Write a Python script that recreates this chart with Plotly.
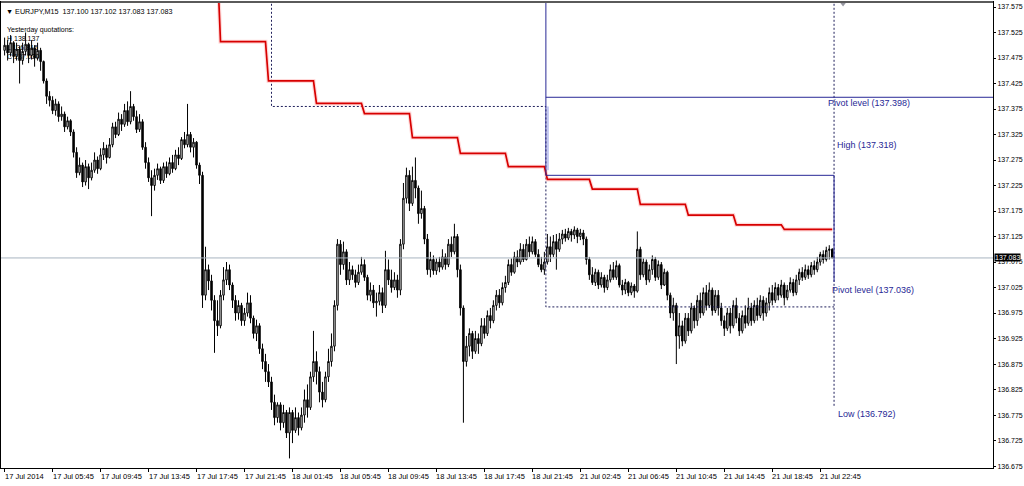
import plotly.graph_objects as go

# ---------------- data (EURJPY M15) ----------------
first_open = 137.490
close = [
    137.500, 137.485, 137.505, 137.478, 137.492, 137.470, 137.488, 137.502, 137.480, 137.495, 137.475, 137.490, 137.468,
    137.430, 137.400, 137.392,
    137.372, 137.385, 137.360, 137.365,
    137.340, 137.352, 137.330,
    137.290, 137.250, 137.265, 137.232,
    137.262, 137.240, 137.255,
    137.275, 137.258, 137.285,
    137.298, 137.280, 137.305,
    137.340, 137.325, 137.355, 137.345,
    137.372, 137.350, 137.380,
    137.360, 137.335, 137.350,
    137.300, 137.270, 137.240,
    137.225, 137.245,
    137.258, 137.235, 137.262, 137.248,
    137.270, 137.258, 137.285, 137.278,
    137.315, 137.305, 137.325,
    137.300, 137.310, 137.265, 137.245,
    137.010,
    137.060, 137.038,
    137.000, 136.960, 136.950,
    137.010, 137.040, 137.060, 137.030,
    137.000, 136.975, 136.990, 136.960,
    136.975, 136.995, 136.965,
    136.935, 136.950, 136.905, 136.880, 136.860,
    136.840, 136.800, 136.770,
    136.795, 136.760, 136.780, 136.740,
    136.780,
    136.745, 136.770, 136.750, 136.775,
    136.805, 136.790,
    136.850, 136.880, 136.860,
    136.820, 136.805,
    136.850, 136.880, 136.910,
    136.990, 137.110,
    137.070, 137.095,
    137.040, 137.060, 137.050, 137.035, 137.055, 137.070, 137.045,
    137.010, 137.020, 136.995, 136.998, 137.015, 136.990,
    137.060, 137.040,
    137.025, 137.040, 137.020,
    137.110, 137.200,
    137.245, 137.190, 137.235, 137.220,
    137.170, 137.180,
    137.120, 137.060,
    137.080, 137.058, 137.075, 137.065, 137.085, 137.070,
    137.110, 137.095, 137.125,
    137.060, 136.985,
    136.880, 136.910,
    136.935, 136.900, 136.925, 136.915,
    136.950, 136.935, 136.970, 136.960, 136.990,
    137.010, 136.995, 137.025, 137.035,
    137.070, 137.055, 137.085, 137.075,
    137.100, 137.080, 137.110, 137.095, 137.115,
    137.090, 137.070, 137.060, 137.075,
    137.105, 137.090, 137.115, 137.100, 137.120,
    137.130, 137.122, 137.135, 137.128, 137.138, 137.125, 137.132, 137.120,
    137.080, 137.050,
    137.035, 137.055, 137.030, 137.045, 137.025, 137.040,
    137.060, 137.045, 137.068, 137.030,
    137.020, 137.035, 137.015, 137.028, 137.018,
    137.100,
    137.050, 137.075, 137.040, 137.060,
    137.080, 137.045, 137.070, 137.030, 137.055,
    137.010, 136.975, 136.990, 136.930,
    136.950, 136.920, 136.965, 136.940, 136.985, 136.960,
    137.000, 136.975, 137.015, 136.990, 137.020, 136.980, 137.010, 136.985,
    136.960, 136.945, 136.975, 136.950, 136.990, 136.965, 136.940, 136.970,
    136.955, 136.985, 136.960, 136.990, 136.970, 137.000, 136.975, 136.995,
    137.015, 137.000, 137.025, 137.010, 137.030, 137.005, 137.020, 137.035, 137.015, 137.040,
    137.055, 137.045, 137.060, 137.050, 137.068, 137.060,
    137.075, 137.090, 137.080, 137.098, 137.100, 137.083,
]
high = [
    137.515, 137.510, 137.520, 137.508, 137.505, 137.498, 137.505, 137.525, 137.505, 137.510, 137.500, 137.505, 137.495,
    137.470, 137.435, 137.410,
    137.400, 137.395, 137.390, 137.380,
    137.370, 137.360, 137.355,
    137.335, 137.300, 137.280, 137.270,
    137.275, 137.268, 137.270,
    137.290, 137.282, 137.298,
    137.310, 137.305, 137.318,
    137.348, 137.350, 137.368, 137.365,
    137.385, 137.390, 137.410,
    137.385, 137.372, 137.365,
    137.355, 137.310, 137.280,
    137.255, 137.258,
    137.268, 137.262, 137.270, 137.272,
    137.280, 137.285, 137.295, 137.300,
    137.320, 137.330, 137.385,
    137.330, 137.318, 137.312, 137.270,
    137.252,
    137.105, 137.070,
    137.050, 137.010, 137.000,
    137.020, 137.065, 137.075, 137.070,
    137.035, 137.010, 137.000, 136.995,
    136.985, 137.015, 137.010,
    136.970, 136.962, 136.955, 136.915, 136.895,
    136.875, 136.850, 136.815,
    136.800, 136.800, 136.795, 136.785,
    136.790,
    136.785, 136.790, 136.780, 136.790,
    136.825, 136.835,
    136.860, 136.940, 136.900,
    136.870, 136.840,
    136.860, 136.905, 136.935,
    137.000, 137.120,
    137.118, 137.115,
    137.100, 137.075, 137.068, 137.060, 137.070, 137.085, 137.080,
    137.050, 137.035, 137.030, 137.015, 137.030, 137.025,
    137.097, 137.080,
    137.060, 137.055, 137.050,
    137.120, 137.230,
    137.260, 137.255, 137.262, 137.280,
    137.225, 137.215,
    137.185, 137.130,
    137.095, 137.088, 137.082, 137.085, 137.100, 137.092,
    137.120, 137.125, 137.150,
    137.130, 137.070,
    136.990, 136.930,
    136.945, 136.940, 136.940, 136.935,
    136.965, 136.965, 136.980, 136.985, 137.000,
    137.020, 137.022, 137.035, 137.048,
    137.080, 137.082, 137.095, 137.098,
    137.112, 137.110, 137.120, 137.125, 137.125,
    137.120, 137.100, 137.085, 137.095,
    137.130, 137.125, 137.128, 137.130, 137.132,
    137.138, 137.140, 137.142, 137.140, 137.145, 137.142, 137.140, 137.138,
    137.125, 137.085,
    137.065, 137.062, 137.060, 137.055, 137.050, 137.050,
    137.070, 137.075, 137.078, 137.072,
    137.040, 137.042, 137.038, 137.035, 137.032,
    137.135,
    137.105, 137.082, 137.080, 137.070,
    137.088, 137.085, 137.078, 137.075, 137.062,
    137.058, 137.015, 137.005, 136.995,
    136.975, 136.960, 136.975, 136.975, 136.995, 136.990,
    137.010, 137.015, 137.025, 137.030, 137.035, 137.025, 137.020, 137.020,
    136.995, 136.970, 136.985, 136.985, 137.000, 137.005, 136.975, 136.980,
    136.990, 137.005, 136.995, 137.000, 137.005, 137.010, 137.008, 137.005,
    137.025, 137.030, 137.035, 137.032, 137.040, 137.035, 137.030, 137.045, 137.042, 137.050,
    137.062, 137.065, 137.070, 137.068, 137.075, 137.078,
    137.085, 137.095, 137.098, 137.105, 137.108, 137.102,
]
low = [
    137.480, 137.470, 137.478, 137.465, 137.470, 137.425, 137.462, 137.480, 137.465, 137.472, 137.458, 137.470, 137.450,
    137.425, 137.385, 137.380,
    137.365, 137.362, 137.350, 137.352,
    137.330, 137.335, 137.322,
    137.280, 137.240, 137.245, 137.222,
    137.225, 137.218, 137.235,
    137.250, 137.248, 137.255,
    137.275, 137.268, 137.278,
    137.300, 137.318, 137.322, 137.332,
    137.340, 137.342, 137.345,
    137.352, 137.328, 137.330,
    137.295, 137.258, 137.232,
    137.165, 137.215,
    137.236, 137.228, 137.230, 137.240,
    137.245, 137.250, 137.255, 137.265,
    137.275, 137.298, 137.300,
    137.290, 137.280, 137.258, 137.228,
    136.985,
    137.000, 137.020,
    136.980, 136.897, 136.930,
    136.945, 137.000, 137.030, 137.020,
    136.985, 136.960, 136.962, 136.950,
    136.950, 136.968, 136.955,
    136.925, 136.920, 136.895, 136.865, 136.840,
    136.830, 136.785, 136.755,
    136.760, 136.745, 136.750, 136.730,
    136.690,
    136.720, 136.740, 136.735, 136.745,
    136.760, 136.770,
    136.785, 136.840, 136.835,
    136.800, 136.790,
    136.800, 136.840, 136.870,
    136.900, 136.980,
    137.050, 137.060,
    137.030, 137.030, 137.040, 137.025, 137.030, 137.050, 137.038,
    137.000, 136.998, 136.985, 136.968, 136.990, 136.975,
    136.985, 137.030,
    137.015, 137.020, 137.005,
    137.010, 137.100,
    137.190, 137.175, 137.185, 137.200,
    137.150, 137.160,
    137.110, 137.050,
    137.045, 137.050, 137.050, 137.055, 137.060, 137.060,
    137.065, 137.085, 137.090,
    137.045, 136.970,
    136.760, 136.870,
    136.890, 136.885, 136.895, 136.895,
    136.910, 136.925, 136.930, 136.945, 136.955,
    136.980, 136.985, 136.990, 137.015,
    137.030, 137.048, 137.052, 137.065,
    137.070, 137.075, 137.078, 137.085, 137.090,
    137.085, 137.065, 137.055, 137.050,
    137.070, 137.075, 137.085, 137.060, 137.095,
    137.110, 137.115, 137.118, 137.115, 137.120, 137.112, 137.118, 137.108,
    137.070, 137.040,
    137.030, 137.028, 137.022, 137.025, 137.015, 137.020,
    137.035, 137.040, 137.040, 137.025,
    137.010, 137.012, 137.008, 137.010, 137.005,
    137.015,
    137.040, 137.045, 137.030, 137.035,
    137.050, 137.038, 137.040, 137.022, 137.028,
    137.000, 136.965, 136.960, 136.875,
    136.905, 136.910, 136.915, 136.930, 136.935, 136.945,
    136.950, 136.965, 136.970, 136.980, 136.985, 136.970, 136.975, 136.970,
    136.950, 136.930, 136.940, 136.935, 136.945, 136.955, 136.930, 136.935,
    136.945, 136.950, 136.950, 136.955, 136.960, 136.965, 136.960, 136.968,
    136.980, 136.990, 136.995, 137.000, 137.005, 136.990, 137.000, 137.015, 137.008, 137.010,
    137.030, 137.038, 137.040, 137.042, 137.045, 137.050,
    137.055, 137.068, 137.072, 137.076, 137.080, 137.083,
]

x_tick_idx = [0, 16, 32, 48, 64, 80, 96, 112, 128, 144, 160, 176, 192, 208, 224, 240, 256, 272]
x_tick_text = ["17 Jul 2014", "17 Jul 05:45", "17 Jul 09:45", "17 Jul 13:45", "17 Jul 17:45",
               "17 Jul 21:45", "18 Jul 01:45", "18 Jul 05:45", "18 Jul 09:45", "18 Jul 13:45",
               "18 Jul 17:45", "18 Jul 21:45", "21 Jul 02:45", "21 Jul 06:45", "21 Jul 10:45",
               "21 Jul 14:45", "21 Jul 18:45", "21 Jul 22:45"]
y_tick_vals = [137.575, 137.525, 137.475, 137.425, 137.375, 137.325, 137.275, 137.225, 137.175,
               137.125, 137.075, 137.025, 136.975, 136.925, 136.875, 136.825, 136.775, 136.725, 136.675]
y_tick_text = ["137.575", "137.525", "137.475", "137.425", "137.375", "137.325", "137.275", "137.225",
               "137.175", "137.125", "137.075", "137.025", "136.975", "136.925", "136.875", "136.825",
               "136.775", "136.725", "136.675"]

# red stepped indicator (4h blocks)
red_start = [64, 72, 88, 104, 120, 136, 152, 168, 181, 196, 212, 228, 244, 260]
red_end = [71, 87, 103, 119, 135, 151, 167, 180, 195, 211, 227, 243, 259, 276]
red_level = [137.650, 137.507, 137.430, 137.386, 137.366, 137.319, 137.288, 137.262,
             137.237, 137.218, 137.188, 137.167, 137.148, 137.139]

# pivot / yesterday levels
pivot_main = 137.398
pivot_second = 137.036
box_top = 137.245
high_level = 137.318
low_level = 136.792
prev_high = 137.380
prev_low = 136.987
last_price = 137.083
day2_start = 89
day3_start = 180.5
last_bar = 276.6

# ---------------- figure ----------------
n = len(close)
idx = list(range(n))
opens = [first_open] + close[:-1]
hi = [max(h, o, c) for h, o, c in zip(high, opens, close)]
lo = [min(l, o, c) for l, o, c in zip(low, opens, close)]

Y_TOP = 137.5848
Y_BOT = 136.6712
X_LEFT = -1.2
X_RIGHT = 329.6

NAVY = "rgb(40,40,150)"
DOT = "rgb(30,30,90)"

fig = go.Figure()

# grey current-price line
fig.add_trace(go.Scatter(x=[X_LEFT, X_RIGHT], y=[last_price, last_price], mode="lines",
                         line=dict(color="rgb(168,180,192)", width=1), hoverinfo="skip"))

# dotted yesterday lines
fig.add_trace(go.Scatter(
    x=[day2_start, day2_start, day3_start, day3_start, last_bar, None, last_bar, last_bar],
    y=[Y_TOP + 0.02, prev_high, prev_high, prev_low, prev_low, None, Y_TOP + 0.02, low_level],
    mode="lines", line=dict(color=DOT, width=1, dash="2px,2px"), hoverinfo="skip"))

# red step line
rx, ry = [], []
for s, e, v in zip(red_start, red_end, red_level):
    rx += [s, e]
    ry += [v, v]
fig.add_trace(go.Scatter(x=rx, y=ry, mode="lines", line=dict(color="rgba(255,160,160,0.4)", width=4),
                         hoverinfo="skip"))
fig.add_trace(go.Scatter(x=rx, y=ry, mode="lines", line=dict(color="rgb(215,0,0)", width=1.7),
                         hoverinfo="skip"))

# blue pivot lines
fig.add_trace(go.Scatter(
    x=[day3_start, day3_start, None, day3_start, X_RIGHT, None, day3_start, last_bar, last_bar],
    y=[Y_TOP + 0.02, box_top, None, pivot_main, pivot_main, None, box_top, box_top, pivot_second],
    mode="lines", line=dict(color=NAVY, width=1), hoverinfo="skip"))
fig.add_trace(go.Scatter(x=[day3_start + 0.7, day3_start + 0.7], y=[prev_high, box_top + 0.01],
                         mode="lines", line=dict(color="rgb(140,150,230)", width=1), hoverinfo="skip"))

# candles
fig.add_trace(go.Candlestick(
    x=idx, open=opens, high=hi, low=lo, close=close,
    increasing=dict(line=dict(color="black", width=1), fillcolor="white"),
    decreasing=dict(line=dict(color="black", width=1), fillcolor="black"),
    whiskerwidth=0, hoverinfo="skip"))

# small marker at top
fig.add_trace(go.Scatter(x=[last_bar + 3], y=[Y_TOP - 0.004], mode="markers",
                         marker=dict(symbol="triangle-down", size=5, color="rgb(150,150,160)"),
                         cliponaxis=False, hoverinfo="skip"))

FONT = "Liberation Sans, Arial, sans-serif"
ann = []
for t, s in zip(x_tick_idx, x_tick_text):
    ann.append(dict(x=t, y=0, xref="x", yref="paper", text=s, showarrow=False,
                    xanchor="left", yanchor="top", xshift=-2, yshift=-2,
                    font=dict(family=FONT, size=7.5, color="black")))

labels = [("Pivot level (137.398)", 274.0, 137.386),
          ("High (137.318)", 277.0, 137.305),
          ("Pivot level (137.036)", 275.3, 137.021),
          ("Low (136.792)", 277.3, 136.777)]
for s, xv, yv in labels:
    ann.append(dict(x=xv, y=yv, xref="x", yref="y", text=s, showarrow=False,
                    xanchor="left", yanchor="middle", font=dict(family=FONT, size=9, color=NAVY)))

ann.append(dict(x=1, y=last_price, xref="paper", yref="y", text="137.083", showarrow=False,
                xanchor="left", yanchor="middle", bgcolor="black", borderpad=0, xshift=1,
                font=dict(family=FONT, size=7, color="white")))

ann.append(dict(x=0, y=1, xref="paper", yref="paper", xanchor="left", yanchor="top",
                xshift=3, yshift=-3, showarrow=False,
                text="▼ EURJPY,M15  137.100 137.102 137.083 137.083",
                font=dict(family=FONT, size=7.2, color="black")))
for k, s in enumerate(["Yesterday quotations:", "H 138.137", "L 136.815", "C 137.030"]):
    ann.append(dict(x=0, y=1, xref="paper", yref="paper", xanchor="left", yanchor="top",
                    xshift=4, yshift=-22 - 9 * k, showarrow=False, text=s,
                    font=dict(family=FONT, size=7, color="black")))

fig.update_layout(
    width=1024, height=486,
    margin=dict(l=1, r=31, t=2, b=18),
    paper_bgcolor="white", plot_bgcolor="white",
    showlegend=False, annotations=ann, hovermode=False,
    xaxis=dict(range=[X_LEFT, X_RIGHT], rangeslider=dict(visible=False), showgrid=False,
               zeroline=False, showline=True, linecolor="black", linewidth=1, mirror=True,
               tickvals=x_tick_idx, ticktext=[""] * len(x_tick_idx), ticks="outside",
               ticklen=3, tickcolor="black", automargin=False),
    yaxis=dict(range=[Y_BOT, Y_TOP], side="right", showgrid=False, zeroline=False,
               showline=True, linecolor="black", linewidth=1, mirror=True,
               tickvals=y_tick_vals, ticktext=y_tick_text, ticks="outside", ticklen=2,
               tickcolor="black", automargin=False,
               tickfont=dict(family=FONT, size=7, color="black")),
)
fig.add_shape(type="line", xref="paper", yref="paper", x0=0, x1=1, y0=1, y1=1,
              line=dict(color="rgb(90,90,90)", width=2))

fig.write_html("out.html", config={"displayModeBar": False},
               post_script="document.body.style.margin='0';document.body.style.overflow='hidden';")
